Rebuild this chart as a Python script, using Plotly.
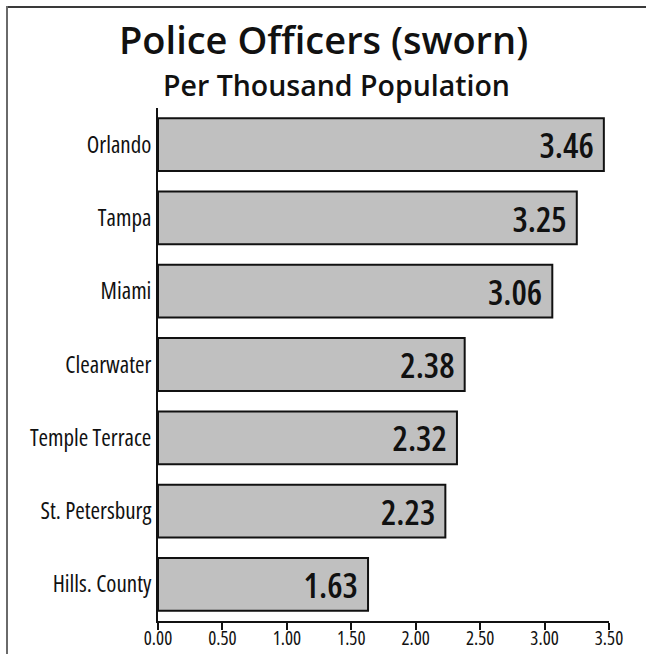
import plotly.graph_objects as go

# Sworn police officers per thousand residents, by jurisdiction
cities = ["Orlando", "Tampa", "Miami", "Clearwater", "Temple Terrace",
          "St. Petersburg", "Hills. County"]
officers_per_thousand = [3.46, 3.25, 3.06, 2.38, 2.32, 2.23, 1.63]
x_ticks = [0.0, 0.5, 1.0, 1.5, 2.0, 2.5, 3.0, 3.5]
x_tick_labels = ["0.00", "0.50", "1.00", "1.50", "2.00", "2.50", "3.00", "3.50"]

W, H = 646, 654
ML, MR, MT, MB = 158, 37, 108, 33
FONT = "Open Sans, Noto Sans, sans-serif"

fig = go.Figure(go.Bar(
    x=officers_per_thousand,
    y=cities,
    orientation="h",
    width=0.72,
    marker=dict(color="#c0c0c0", line=dict(color="#111111", width=2)),
    text=[f"{v:.2f}" for v in officers_per_thousand],
    textposition="inside",
    insidetextanchor="end",
    textangle=0,
    textfont=dict(family=FONT, size=39, color="#111111", weight=600),
    cliponaxis=False,
    hoverinfo="skip",
))

fig.update_layout(
    width=W, height=H,
    margin=dict(l=ML, r=MR, t=MT, b=MB, pad=0),
    paper_bgcolor="white",
    plot_bgcolor="white",
    showlegend=False,
    xaxis=dict(
        range=[0, 3.5],
        tickvals=x_ticks,
        ticktext=x_tick_labels,
        ticks="outside", ticklen=7, tickwidth=2, tickcolor="#111111",
        showline=True, linecolor="#111111", linewidth=2,
        showgrid=False, zeroline=False,
        ticklabelstandoff=-8,
        tickfont=dict(family=FONT, size=19, color="#111111"),
        automargin=False,
        fixedrange=True,
    ),
    yaxis=dict(
        categoryorder="array",
        categoryarray=cities[::-1],
        range=[-0.5, len(cities) - 0.5],
        showline=True, linecolor="#111111", linewidth=2,
        ticks="", showgrid=False, zeroline=False,
        ticklabelstandoff=0,
        tickfont=dict(family=FONT, size=23, color="#111111", weight=500),
        automargin=False,
        fixedrange=True,
    ),
)

# Headline and subheading
fig.add_annotation(
    text="Police Officers (sworn)", xref="paper", yref="paper",
    x=(323 - ML) / (W - ML - MR), y=1 + (MT - 39) / (H - MT - MB),
    xanchor="center", yanchor="middle", showarrow=False,
    font=dict(family=FONT, size=38, color="#111111", weight=600),
)
fig.add_annotation(
    text="Per Thousand Population", xref="paper", yref="paper",
    x=(336 - ML) / (W - ML - MR), y=1 + (MT - 85) / (H - MT - MB),
    xanchor="center", yanchor="middle", showarrow=False,
    font=dict(family=FONT, size=28.5, color="#111111", weight=600),
)

# Frame along the top and left edges of the page
pw, ph = W - ML - MR, H - MT - MB
def px_x(px):
    return (px - ML) / pw
def px_y(py):
    return 1 - (py - MT) / ph

fig.add_shape(type="line", xref="paper", yref="paper",
              x0=px_x(7), y0=px_y(7), x1=px_x(W + 4), y1=px_y(7),
              line=dict(color="#3a3a3a", width=2))
fig.add_shape(type="line", xref="paper", yref="paper",
              x0=px_x(7), y0=px_y(6), x1=px_x(7), y1=px_y(H + 4),
              line=dict(color="#6a6a6a", width=2))

# Condensed letterforms for the axis and value labels
js = """
document.querySelectorAll('.xtick text, .ytick text, .bartext').forEach(function (t) {
  t.style.fontStretch = '75%';
});
"""
fig.write_html("out.html", post_script=js)
